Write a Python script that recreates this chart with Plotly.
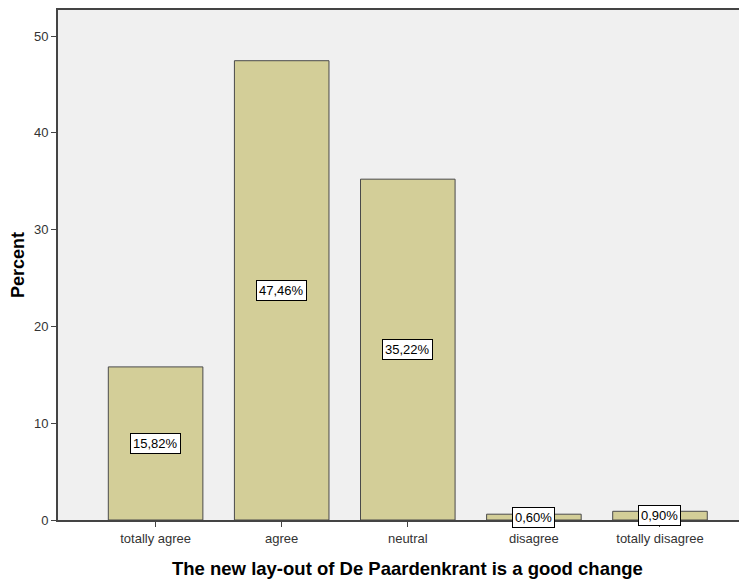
import plotly.graph_objects as go

categories = ["totally agree", "agree", "neutral", "disagree", "totally disagree"]
percent = [15.82, 47.46, 35.22, 0.60, 0.90]
labels = ["15,82%", "47,46%", "35,22%", "0,60%", "0,90%"]

FONT = 'Arial, Liberation Sans'

fig = go.Figure()
fig.add_trace(go.Bar(x=categories, y=percent, width=0.75, marker_color='#D3CE98',
    marker_line=dict(color='#4A4A4A', width=1), hoverinfo='skip'))

# value boxes in the middle of each bar
for c, v, t in zip(categories, percent, labels):
    fig.add_annotation(x=c, y=v / 2, text=t, showarrow=False, bgcolor='white',
        bordercolor='black', borderwidth=1, borderpad=2,
        font=dict(family=FONT, size=13, color='black'))

# axis titles (x title centred on the categories, like the original)
fig.add_annotation(x='neutral', xref='x', xanchor='center', y=0, yref='paper', yshift=-48,
    yanchor='middle', text='<b>The new lay-out of De Paardenkrant is a good change</b>',
    showarrow=False, font=dict(family=FONT, size=18.5, color='black'))
fig.add_annotation(x=0, xref='paper', xanchor='center', xshift=-40, y=0.5, yref='paper',
    yanchor='middle', textangle=-90, text='<b>Percent</b>', showarrow=False,
    font=dict(family=FONT, size=18, color='black'))

fig.update_layout(width=739, height=573, paper_bgcolor='white', plot_bgcolor='#F0F0F0',
    margin=dict(l=50, r=0, t=0, b=61), showlegend=False,
    font=dict(family=FONT, color='#333333'),
    xaxis=dict(type='category', range=[-0.774, 4.69], showline=True, linecolor='#444444',
        linewidth=2, mirror=True, ticks='outside', ticklen=5, tickcolor='#444444',
        showgrid=False, tickfont=dict(size=13, color='#333333')),
    yaxis=dict(range=[0, 52.7], tickvals=[0, 10, 20, 30, 40, 50], showline=True,
        linecolor='#444444', linewidth=2, ticks='outside', ticklen=5, tickcolor='#444444',
        showgrid=False, zeroline=False, tickfont=dict(size=13, color='#333333')))

fig.write_html("out.html")
